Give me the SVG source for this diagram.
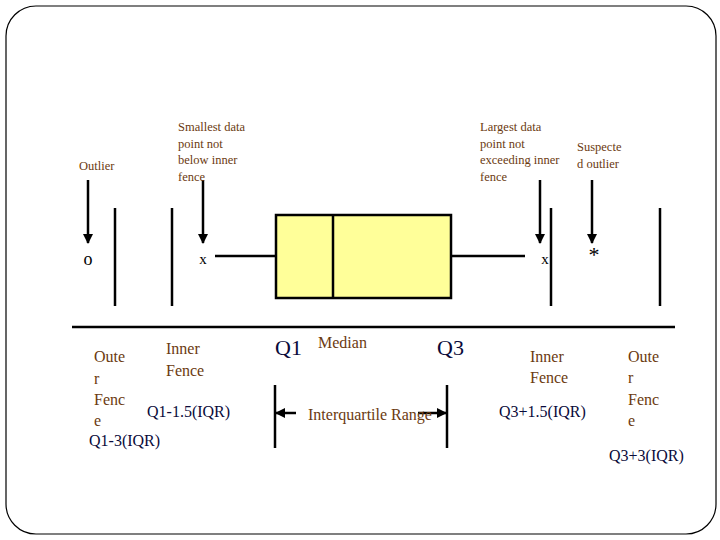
<svg xmlns="http://www.w3.org/2000/svg" width="720" height="540" viewBox="0 0 720 540" font-family="'Liberation Serif','Times New Roman',serif">
<defs>
<style>
.ln{stroke:#000;stroke-width:2.5;fill:none}
.br{fill:#6B3A10}
.bl{fill:#0A0A3A}
.bk{fill:#000}
text{font-family:'Liberation Serif','Times New Roman',serif}
</style>
<marker id="ah" viewBox="0 0 10 10" refX="9" refY="5" markerWidth="4" markerHeight="4" orient="auto"><path d="M0,0L10,5L0,10z" fill="#000"/></marker>
</defs>
<rect x="0" y="0" width="720" height="540" fill="#fff"/>
<rect x="6" y="6" width="710" height="528" rx="30" fill="#fff" stroke="#000" stroke-width="1.2"/>
<g id="connectors">
<line class="ln" x1="88" y1="180" x2="88" y2="243" marker-end="url(#ah)"/>
<line class="ln" x1="203" y1="180" x2="203" y2="243" marker-end="url(#ah)"/>
<line class="ln" x1="540" y1="180" x2="540" y2="243" marker-end="url(#ah)"/>
<line class="ln" x1="592" y1="180" x2="592" y2="243" marker-end="url(#ah)"/>
<line class="ln" x1="215" y1="256" x2="276" y2="256"/>
<line class="ln" x1="451" y1="256" x2="525" y2="256"/>
<line class="ln" x1="115" y1="208" x2="115" y2="306"/>
<line class="ln" x1="172" y1="208" x2="172" y2="306"/>
<line class="ln" x1="551" y1="208" x2="551" y2="306"/>
<line class="ln" x1="660" y1="208" x2="660" y2="306"/>
<line class="ln" x1="72" y1="327" x2="675" y2="327" stroke-width="3"/>
<line class="ln" x1="275" y1="385" x2="275" y2="448"/>
<line class="ln" x1="447" y1="385" x2="447" y2="448"/>
<line class="ln" x1="296" y1="413" x2="276" y2="413" marker-end="url(#ah)"/>
<line class="ln" x1="418" y1="413" x2="446" y2="413" marker-end="url(#ah)"/>
</g>
<g id="box">
<rect x="276" y="215" width="175" height="83" fill="#FFFF99" stroke="#000" stroke-width="2.5"/>
<line class="ln" x1="333" y1="215" x2="333" y2="298"/>
</g>
<g id="points">
<text class="bk" x="88" y="265" font-size="18" text-anchor="middle">o</text>
<text class="bk" x="203" y="264" font-size="15" text-anchor="middle">x</text>
<text class="bk" x="545" y="264" font-size="15" text-anchor="middle">x</text>
<text class="bk" x="594" y="262" font-size="22" text-anchor="middle">*</text>
</g>
<g id="top-labels" font-size="12.5">
<text class="br" x="79" y="170">Outlier</text>
<text class="br" x="178" y="131">Smallest data</text>
<text class="br" x="178" y="148">point not</text>
<text class="br" x="178" y="164">below inner</text>
<text class="br" x="178" y="181">fence</text>
<text class="br" x="480" y="131">Largest data</text>
<text class="br" x="480" y="148">point not</text>
<text class="br" x="480" y="164">exceeding inner</text>
<text class="br" x="480" y="181">fence</text>
<text class="br" x="577" y="151">Suspecte</text>
<text class="br" x="577" y="168">d outlier</text>
</g>
<g id="bottom-labels">
<text class="bl" x="275" y="355" font-size="22">Q1</text>
<text class="br" x="318" y="348" font-size="16">Median</text>
<text class="bl" x="437" y="355" font-size="22">Q3</text>
<text class="br" x="308" y="420" font-size="16">Interquartile Range</text>
<g font-size="16">
<text class="br" x="94" y="362">Oute</text>
<text class="br" x="94" y="384">r</text>
<text class="br" x="94" y="405">Fenc</text>
<text class="br" x="94" y="426">e</text>
<text class="br" x="166" y="354">Inner</text>
<text class="br" x="166" y="376">Fence</text>
<text class="br" x="530" y="362">Inner</text>
<text class="br" x="530" y="383">Fence</text>
<text class="br" x="628" y="362">Oute</text>
<text class="br" x="628" y="383">r</text>
<text class="br" x="628" y="405">Fenc</text>
<text class="br" x="628" y="426">e</text>
</g>
<text class="bl" x="147" y="417" font-size="16">Q1-1.5(IQR)</text>
<text class="bl" x="89" y="446" font-size="16">Q1-3(IQR)</text>
<text class="bl" x="499" y="417" font-size="16">Q3+1.5(IQR)</text>
<text class="bl" x="609" y="461" font-size="16">Q3+3(IQR)</text>
</g>
</svg>
